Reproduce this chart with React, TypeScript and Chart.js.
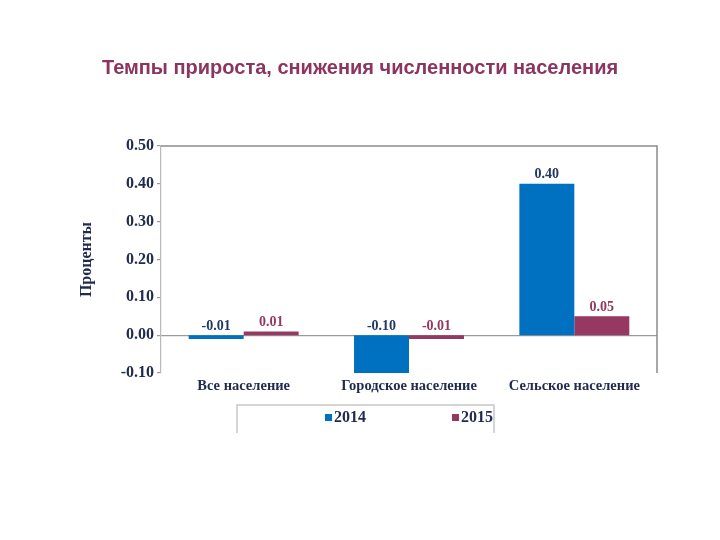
import React, { useEffect, useRef } from "react";
import { Chart, registerables } from "chart.js";

Chart.register(...registerables);

const titleText = "Темпы прироста, снижения численности населения";
const yAxisTitle = "Проценты";
const categories = ["Все население", "Городское население", "Сельское население"];
const seriesNames = ["2014", "2015"];
const values2014 = [-0.01, -0.1, 0.4];
const values2015 = [0.01, -0.01, 0.05];
const yMin = -0.1;
const yMax = 0.5;
const yStep = 0.1;

const barColors = ["#0070C0", "#953862"];
const labelColors = ["#1F3864", "#953862"];
const serif = "'Liberation Serif', 'Times New Roman', serif";
const textNavy = "#1F2A4D";

const valueLabelsPlugin = {
  id: "valueLabels",
  afterDatasetsDraw(chart: any) {
    const ctx = chart.ctx;
    ctx.save();
    ctx.font = `bold 14px ${serif}`;
    ctx.textAlign = "center";
    ctx.textBaseline = "bottom";
    chart.data.datasets.forEach((ds: any, di: number) => {
      const meta = chart.getDatasetMeta(di);
      meta.data.forEach((el: any, i: number) => {
        const v = ds.data[i] as number;
        const y = Math.min(el.y, el.base) - 2;
        ctx.fillStyle = labelColors[di];
        ctx.fillText(v.toFixed(2), el.x, y);
      });
    });
    ctx.restore();
  },
};

const frameAndLegendPlugin = {
  id: "frameAndLegend",
  afterDraw(chart: any) {
    const ctx = chart.ctx;
    const a = chart.chartArea;
    ctx.save();
    // plot frame top & right
    ctx.strokeStyle = "#8a8a8a";
    ctx.lineWidth = 1.5;
    ctx.beginPath();
    ctx.moveTo(a.left, a.top);
    ctx.lineTo(a.right, a.top);
    ctx.lineTo(a.right, a.bottom);
    ctx.stroke();

    // legend box (cropped at bottom)
    const lx = 237, ly = 405, lw = 257, lh = 28;
    ctx.strokeStyle = "#c8c8c8";
    ctx.lineWidth = 1.5;
    ctx.beginPath();
    ctx.moveTo(lx, ly + lh);
    ctx.lineTo(lx, ly);
    ctx.lineTo(lx + lw, ly);
    ctx.lineTo(lx + lw, ly + lh);
    ctx.stroke();

    const itemX = [325, 452];
    ctx.font = `bold 16px ${serif}`;
    ctx.textBaseline = "middle";
    ctx.textAlign = "left";
    chart.data.datasets.forEach((ds: any, di: number) => {
      const x = itemX[di];
      ctx.fillStyle = barColors[di];
      ctx.fillRect(x, 414, 7, 7);
      ctx.fillStyle = textNavy;
      ctx.fillText(ds.label, x + 9, 418);
    });
    ctx.restore();
  },
};

export default function App() {
  const ref = useRef<HTMLCanvasElement>(null);
  useEffect(() => {
    if (!ref.current) return;
    const chart = new Chart(ref.current, {
      type: "bar",
      data: {
        labels: categories,
        datasets: [
          { label: seriesNames[0], data: values2014, backgroundColor: barColors[0] },
          { label: seriesNames[1], data: values2015, backgroundColor: barColors[1] },
        ],
      },
      options: {
        responsive: false,
        animation: false,
        layout: { padding: { left: 63, right: 63, top: 0, bottom: 140 } },
        datasets: { bar: { barPercentage: 1, categoryPercentage: 0.665 } },
        plugins: {
          legend: { display: false },
          tooltip: { enabled: false },
          title: {
            display: true,
            text: titleText,
            color: "#8B3560",
            font: { family: "'Liberation Sans', Arial, sans-serif", size: 20, weight: "bold" },
            padding: { top: 56, bottom: 66 },
          },
        },
        scales: {
          x: {
            grid: { display: false, drawTicks: false },
            border: { display: false },
            ticks: {
              color: textNavy,
              font: { family: serif, size: 14.5, weight: "bold" },
              padding: 5,
              maxRotation: 0,
            },
            afterFit(scale: any) {
              scale.height = 27;
            },
          },
          y: {
            min: yMin,
            max: yMax,
            ticks: {
              stepSize: yStep,
              color: textNavy,
              font: { family: serif, size: 16, weight: "bold" },
              padding: 3,
              callback: (v: any) => (Math.abs(Number(v)) < 1e-9 ? 0 : Number(v)).toFixed(2),
            },
            grid: {
              color: (c: any) => (c.tick && Math.abs(c.tick.value) < 1e-9 ? "#9a9a9a" : "rgba(0,0,0,0)"),
              tickColor: "#9a9a9a",
              tickLength: 4,
              lineWidth: 1.2,
            },
            border: { color: "#b8b8b8", width: 1.2 },
            title: {
              display: true,
              text: yAxisTitle,
              color: textNavy,
              font: { family: serif, size: 16, weight: "bold" },
              padding: { top: 14, bottom: 0 },
            },
            afterFit(scale: any) {
              scale.width = 98;
            },
          },
        },
      },
      plugins: [valueLabelsPlugin, frameAndLegendPlugin],
    });
    return () => chart.destroy();
  }, []);
  return (
    <div style={{ position: "fixed", left: 0, top: 0, width: 720, height: 540, background: "#fff" }}>
      <canvas ref={ref} width={720} height={540} />
    </div>
  );
}
